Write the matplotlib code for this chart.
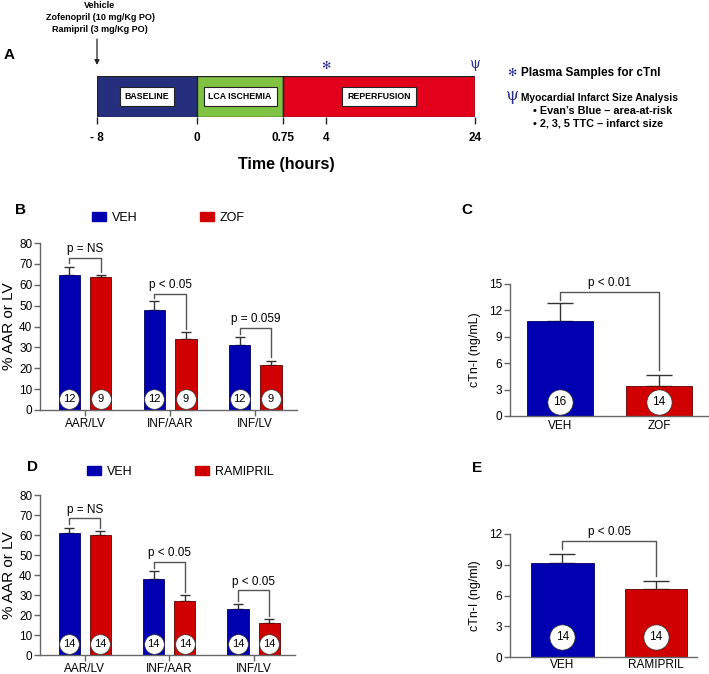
import numpy as np
import matplotlib
matplotlib.use('Agg')
import matplotlib.pyplot as plt
from matplotlib.patches import Patch

plt.rcParams['font.family'] = ['Liberation Sans', 'DejaVu Sans']

# ---- data -------------------------------------------------------------
# panel A : study timeline
phase_bounds = [-8, 0, 0.75, 24]
phase_names = ['BASELINE', 'LCA ISCHEMIA', 'REPERFUSION']
phase_colors = ['#252f7d', '#80c342', '#e2001a']
tick_times = [-8, 0, 0.75, 4, 24]
tick_labels = ['- 8', '0', '0.75', '4', '24']
sample_time = 4
analysis_time = 24
dosing = ['Vehicle', 'Zofenopril (10 mg/Kg PO)', 'Ramipril (3 mg/Kg PO)']

# panel B : zofenopril infarct size
cats = ['AAR/LV', 'INF/AAR', 'INF/LV']
b_veh = [64.8, 47.8, 31.1]
b_veh_err = [3.9, 4.4, 3.9]
b_zof = [63.7, 33.9, 21.5]
b_zof_err = [0.9, 3.6, 2.2]
b_n_veh = [12, 12, 12]
b_n_zof = [9, 9, 9]
b_p = ['p = NS', 'p < 0.05', 'p = 0.059']
b_bracket = [72.9, 55.8, 39.2]

# panel C : zofenopril cTn-I
c_groups = ['VEH', 'ZOF']
c_vals = [10.75, 3.4]
c_err = [2.05, 1.3]
c_n = [16, 14]
c_p = 'p < 0.01'
c_bracket = 14.1

# panel D : ramipril infarct size
d_veh = [61.1, 38.1, 22.9]
d_veh_err = [2.6, 4.0, 2.5]
d_ram = [60.0, 27.0, 15.8]
d_ram_err = [1.9, 3.2, 2.4]
d_n_veh = [14, 14, 14]
d_n_ram = [14, 14, 14]
d_p = ['p = NS', 'p < 0.05', 'p < 0.05']
d_bracket = [68.3, 46.4, 32.3]

# panel E : ramipril cTn-I
e_groups = ['VEH', 'RAMIPRIL']
e_vals = [9.2, 6.6]
e_err = [0.85, 0.85]
e_n = [14, 14]
e_p = 'p < 0.05'
e_bracket = 11.3

BLUE = '#0000b0'
RED = '#d00000'
NAVY = '#2b2f8a'
SPINE = '#666666'

W, H = 709, 674
fig = plt.figure(figsize=(W / 100, H / 100), dpi=100)


def px_axes(l, t, r, b):
    return fig.add_axes([l / W, 1 - b / H, (r - l) / W, (b - t) / H])


def ftxt(x, y, s, **kw):
    kw.setdefault('ha', 'center')
    kw.setdefault('va', 'center')
    return fig.text(x / W, 1 - y / H, s, **kw)


def style_axes(ax):
    for s in ['top', 'right']:
        ax.spines[s].set_visible(False)
    for s in ['left', 'bottom']:
        ax.spines[s].set_color(SPINE)
        ax.spines[s].set_linewidth(1)
    ax.tick_params(direction='out', length=4, width=1, color=SPINE,
                   labelsize=8.5, pad=1.5)


def bracket(ax, x1, x2, y, y1, y2, text, fs=8.5):
    ax.plot([x1, x1, x2, x2], [y1, y, y, y2], color='#555555', lw=1,
            zorder=3)
    ax.annotate(text, ((x1 + x2) / 2, y), xytext=(0, 2),
                textcoords='offset points', ha='center', va='bottom',
                fontsize=fs)


# ---- panel A ----------------------------------------------------------
knots_t = [-8, 0, 0.75, 4, 24]
knots_x = [0, 1, 1.86, 2.29, 3.78]


def fwd(t):
    return np.interp(t, knots_t, knots_x)


def inv(x):
    return np.interp(x, knots_x, knots_t)


axA = px_axes(97, 76, 475, 117)
axA.set_xscale('function', functions=(fwd, inv))
axA.set_xlim(-8, 24)
axA.set_ylim(0, 1)
for i, name in enumerate(phase_names):
    left = phase_bounds[i]
    width = phase_bounds[i + 1] - phase_bounds[i]
    axA.barh(0.5, width, left=left, height=1, color=phase_colors[i],
             edgecolor='#222222', linewidth=1)
    mid = inv((fwd(phase_bounds[i]) + fwd(phase_bounds[i + 1])) / 2)
    axA.text(mid, 0.5, name, ha='center', va='center', fontsize=6.3,
             fontweight='bold',
             bbox=dict(boxstyle='square,pad=0.55', fc='white', ec='#222222',
                       lw=0.8))
for s in axA.spines.values():
    s.set_visible(False)
axA.set_yticks([])
axA.set_xticks(tick_times)
axA.set_xticklabels(tick_labels, fontsize=8.5, fontweight='bold')
axA.xaxis.set_minor_locator(matplotlib.ticker.NullLocator())
axA.tick_params(axis='x', direction='out', length=5, width=1,
                color='#222222', pad=6)
axA.set_xlabel('Time (hours)', fontsize=11.5, fontweight='bold',
               labelpad=9)
axA.text(sample_time, 1.25, '\u273b', ha='center', va='center',
         fontsize=8, color=NAVY, family='DejaVu Sans')
axA.text(analysis_time, 1.3, '\u03c8', ha='center', va='center',
         fontsize=10, color=NAVY, family='DejaVu Serif')
axA.annotate('', xy=(-8, 1.27), xytext=(-8, 1.9),
             arrowprops=dict(arrowstyle='-|>', color='#222222', lw=0.9,
                             mutation_scale=7, shrinkA=0, shrinkB=0),
             annotation_clip=False)

for k, line in enumerate(dosing):
    ftxt(100, 6 + 12 * k, line, fontsize=6.5, fontweight='bold')
ftxt(9, 55, 'A', fontsize=11, fontweight='bold')

ftxt(512, 73, '\u273b', fontsize=8, color=NAVY, family='DejaVu Sans')
ftxt(521, 73, 'Plasma Samples for cTnI', fontsize=8.5, fontweight='bold',
     ha='left')
ftxt(512, 96, '\u03c8', fontsize=12, color=NAVY, family='DejaVu Serif')
ftxt(521, 98, 'Myocardial Infarct Size Analysis', fontsize=7.4,
     fontweight='bold', ha='left')
ftxt(533, 111, '\u2022 Evan\u2019s Blue \u2013 area-at-risk', fontsize=7.8,
     fontweight='bold', ha='left')
ftxt(533, 124, '\u2022 2, 3, 5 TTC \u2013 infarct size', fontsize=7.8,
     fontweight='bold', ha='left')


# ---- panels B and D ---------------------------------------------------
def group_panel(ax, veh, veh_err, trt, trt_err, n_veh, n_trt, ptxt,
                levels, trt_name, legend_xy):
    x = np.arange(len(cats))
    off, w = 0.185, 0.25
    ax.bar(x - off, veh, w, color=BLUE, edgecolor='#000060', lw=0.6,
           zorder=2)
    ax.bar(x + off, trt, w, color=RED, edgecolor='#600000', lw=0.6,
           zorder=2)
    ax.errorbar(x - off, veh, yerr=[np.zeros(3), veh_err], fmt='none',
                ecolor='#333333', elinewidth=1, capsize=3.3, capthick=1,
                zorder=1)
    ax.errorbar(x + off, trt, yerr=[np.zeros(3), trt_err], fmt='none',
                ecolor='#333333', elinewidth=1, capsize=3.3, capthick=1,
                zorder=1)
    xs = np.concatenate([x - off, x + off])
    ns = list(n_veh) + list(n_trt)
    ax.scatter(xs, [5.5] * len(xs), s=200, c='white', edgecolors='#333333',
               linewidths=0.5, zorder=4)
    for xi, n in zip(xs, ns):
        ax.text(xi, 5.5, str(n), ha='center', va='center', fontsize=8,
                zorder=5)
    for i in range(len(cats)):
        top1 = veh[i] + veh_err[i]
        top2 = trt[i] + trt_err[i]
        bracket(ax, i - off, i + off, levels[i], top1 + 1.6, top2 + 1.5,
                ptxt[i])
    ax.set_xlim(-0.53, 2.49)
    ax.set_ylim(0, 80)
    ax.set_yticks(range(0, 81, 10))
    ax.set_xticks(x)
    ax.set_xticklabels(cats)
    style_axes(ax)
    ax.set_ylabel('% AAR or LV', fontsize=11, labelpad=2)
    handles = [Patch(color=BLUE, label='VEH'), Patch(color=RED, label=trt_name)]
    fig.legend(handles=handles, ncol=2, frameon=False, fontsize=9,
               loc='center left',
               bbox_to_anchor=(legend_xy[0] / W, 1 - legend_xy[1] / H),
               borderpad=0, borderaxespad=0, handlelength=1.1,
               handleheight=0.7, handletextpad=0.5, columnspacing=5.0)


axB = px_axes(40, 243, 297, 410)
group_panel(axB, b_veh, b_veh_err, b_zof, b_zof_err, b_n_veh, b_n_zof,
            b_p, b_bracket, 'ZOF', (92, 218))
ftxt(20, 210, 'B', fontsize=11, fontweight='bold')

axD = px_axes(40, 495, 295, 655)
group_panel(axD, d_veh, d_veh_err, d_ram, d_ram_err, d_n_veh, d_n_ram,
            d_p, d_bracket, 'RAMIPRIL', (87, 472))
ftxt(32, 467, 'D', fontsize=11, fontweight='bold')


# ---- panels C and E ---------------------------------------------------
def pair_panel(ax, groups, vals, err, n, ptxt, level, ymax, ystep,
               ylabel, n_y, xlim, leg1, leg2):
    x = np.arange(len(groups))
    ax.bar(x, vals, 0.67, color=[BLUE, RED],
           edgecolor=['#000060', '#600000'], lw=0.6, zorder=2)
    ax.errorbar(x, vals, yerr=[np.zeros(2), err], fmt='none',
                ecolor='#333333', elinewidth=1, capsize=9.5, capthick=1,
                zorder=1)
    ax.scatter(x, [n_y] * 2, s=330, c='white', edgecolors='#333333',
               linewidths=0.5, zorder=4)
    for xi, nn in zip(x, n):
        ax.text(xi, n_y, str(nn), ha='center', va='center', fontsize=8.5,
                zorder=5)
    bracket(ax, 0, 1, level, leg1, leg2, ptxt)
    ax.set_xlim(*xlim)
    ax.set_ylim(0, ymax)
    ax.set_yticks(np.arange(0, ymax + 0.1, ystep))
    ax.set_xticks(x)
    ax.set_xticklabels(groups)
    style_axes(ax)
    ax.tick_params(axis='x', length=0, pad=3)
    ax.set_ylabel(ylabel, fontsize=9, labelpad=6)


axC = px_axes(510, 284, 709, 416)
pair_panel(axC, c_groups, c_vals, c_err, c_n, c_p, c_bracket, 15, 3,
           'cTn-I (ng/mL)', 1.6, (-0.505, 1.505), 13.2, 5.2)
ftxt(467, 210, 'C', fontsize=11, fontweight='bold')

axE = px_axes(510, 534, 697, 657)
pair_panel(axE, e_groups, e_vals, e_err, e_n, e_p, e_bracket, 12, 3,
           'cTn-I (ng/ml)', 1.95, (-0.56, 1.44), 10.5, 7.9)
axE.tick_params(axis='x', pad=1.5)
ftxt(477, 468, 'E', fontsize=11, fontweight='bold')

fig.savefig('out.png', dpi=100)
